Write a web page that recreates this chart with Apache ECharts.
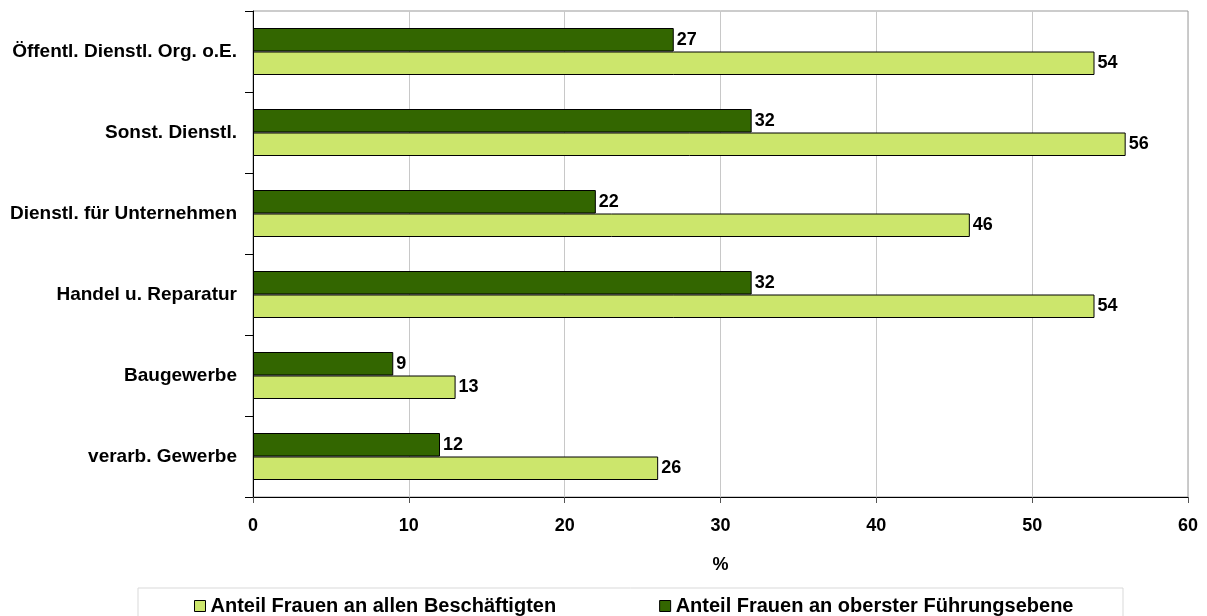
<!DOCTYPE html>
<html>
<head>
<meta charset="utf-8">
<script src="https://cdn.jsdelivr.net/npm/echarts@6/dist/echarts.min.js"></script>
<style>
html,body{margin:0;padding:0;background:#fff;}
#chart{width:1207px;height:616px;}
</style>
</head>
<body>
<div id="chart"></div>
<script>
const categories = ['verarb. Gewerbe','Baugewerbe','Handel u. Reparatur','Dienstl. für Unternehmen','Sonst. Dienstl.','Öffentl. Dienstl. Org. o.E.'];
const seriesNames = ['Anteil Frauen an allen Beschäftigten','Anteil Frauen an oberster Führungsebene'];
const alleBeschaeftigten = [26, 13, 54, 46, 56, 54];
const fuehrungsebene = [12, 9, 32, 22, 32, 27];
const xTicks = [0, 10, 20, 30, 40, 50, 60];

const FONT = '"Liberation Sans", Arial, sans-serif';
const chart = echarts.init(document.getElementById('chart'));
const labelStyle = {show:true, position:'right', distance:3, color:'#000', fontFamily:FONT, fontWeight:'bold', fontSize:18};
chart.setOption({
  animation:false,
  backgroundColor:'#fff',
  grid:{left:253, right:19, top:11, bottom:119, show:true, borderColor:'#999', borderWidth:1, backgroundColor:'transparent'},
  legend:{
    data:seriesNames,
    left:189, top:591,
    itemWidth:11, itemHeight:11, itemGap:103,
    icon:'rect',
    textStyle:{fontFamily:FONT, fontWeight:'bold', fontSize:20, color:'#000'},
    itemStyle:{borderColor:'#000', borderWidth:1}
  },
  xAxis:{
    type:'value', min:xTicks[0], max:xTicks[xTicks.length-1], interval:10,
    name:'%', nameLocation:'middle', nameGap:59,
    nameTextStyle:{fontFamily:FONT, fontWeight:'bold', fontSize:18, color:'#000'},
    axisLine:{show:true, lineStyle:{color:'#000', width:1}},
    axisTick:{show:true, length:6, lineStyle:{color:'#555'}},
    axisLabel:{margin:20, fontFamily:FONT, fontWeight:'bold', fontSize:18, color:'#000'},
    splitLine:{show:true, lineStyle:{color:'#c8c8c8', width:1}}
  },
  yAxis:{
    type:'category', data:categories,
    axisLine:{show:true, lineStyle:{color:'#000', width:1}},
    axisTick:{show:true, length:8, lineStyle:{color:'#000'}},
    axisLabel:{margin:16, fontFamily:FONT, fontWeight:'bold', fontSize:19, color:'#000'},
    splitLine:{show:false}
  },
  graphic:[{type:'rect', shape:{x:138, y:588, width:985, height:40}, style:{fill:'none', stroke:'#d9d9d9', lineWidth:1}, silent:true, z:-1}],
  series:[
    {name:seriesNames[1], type:'bar', data:fuehrungsebene, barWidth:23.5, barGap:'0%',
     itemStyle:{color:'#336600', borderColor:'#000', borderWidth:1}, label:labelStyle},
    {name:seriesNames[0], type:'bar', data:alleBeschaeftigten, barWidth:23.5, barGap:'0%',
     itemStyle:{color:'#cce66c', borderColor:'#000', borderWidth:1}, label:labelStyle}
  ]
});
</script>
</body>
</html>
